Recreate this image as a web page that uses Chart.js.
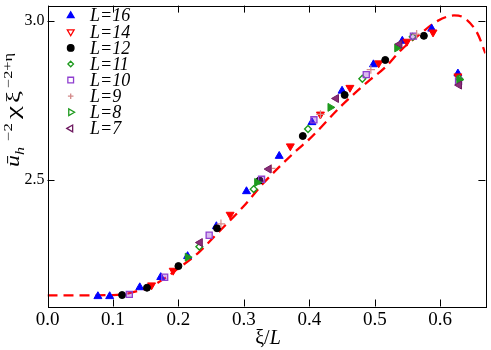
<!DOCTYPE html>
<html><head><meta charset="utf-8">
<script src="https://cdn.jsdelivr.net/npm/chart.js@4/dist/chart.umd.min.js"></script>
<style>html,body{margin:0;padding:0;background:#fff}</style>
</head><body>
<canvas id="c" width="491" height="350" style="width:491px;height:350px;display:block"></canvas>
<script>
// ---- data ----
const xTicks = [0.0, 0.1, 0.2, 0.3, 0.4, 0.5, 0.6];
const yTicks = [2.5, 3.0];

const L16x = [0.077,0.095,0.141,0.173,0.214,0.258,0.304,0.354,0.404,0.450,0.498,0.542,0.587,0.627];
const L16y = [2.134,2.134,2.162,2.194,2.260,2.354,2.464,2.575,2.681,2.780,2.863,2.937,2.975,2.834];
const L14x = [0.159,0.192,0.279,0.371,0.417,0.462,0.506,0.549,0.589,0.627];
const L14y = [2.169,2.215,2.391,2.606,2.706,2.790,2.867,2.935,2.964,2.826];
const L12x = [0.114,0.152,0.200,0.259,0.324,0.390,0.454,0.516,0.575];
const L12y = [2.138,2.161,2.229,2.348,2.498,2.638,2.767,2.877,2.953];
const L11x = [0.232,0.315,0.398,0.481,0.558,0.629];
const L11y = [2.290,2.471,2.660,2.818,2.950,2.818];
const L10x = [0.125,0.179,0.247,0.327,0.407,0.487,0.559,0.628];
const L10y = [2.140,2.194,2.326,2.502,2.689,2.831,2.952,2.810];
const L9x  = [0.265,0.342,0.417,0.494,0.564];
const L9y  = [2.362,2.536,2.706,2.847,2.958];
const L8x  = [0.214,0.320,0.432,0.534,0.629];
const L8y  = [2.257,2.492,2.728,2.915,2.815];
const L7x  = [0.233,0.338,0.441,0.538,0.629];
const L7y  = [2.303,2.534,2.756,2.927,2.798];

const curveX = [0.0,0.05,0.10,0.12,0.14,0.16,0.18,0.20,0.23,0.26,0.30,0.33,0.38,0.40,0.45,0.49,0.515,0.54,0.57,0.596,0.621,0.636,0.657,0.669];
const curveY = [2.137,2.137,2.138,2.142,2.152,2.167,2.192,2.222,2.270,2.333,2.418,2.490,2.592,2.628,2.735,2.810,2.852,2.908,2.960,3.000,3.017,3.010,2.960,2.898];

const seriesNames = ['L=16','L=14','L=12','L=11','L=10','L=9','L=8','L=7'];

// ---- helpers ----
const pts = (xs, ys) => xs.map((v, i) => ({x: v, y: ys[i]}));
const SERIF = '"Liberation Serif", "DejaVu Serif", serif';

const styles = [
  {style:'triangle', rot:0,   r:4.6, bg:'#0000ff', bc:'#0000ff', bw:1,   lgFill:true},
  {style:'triangle', rot:180, r:4.6, bg:'#ff0000', bc:'#ff0000', bw:1,   lgFill:false},
  {style:'circle',   rot:0,   r:3.5, bg:'#000000', bc:'#000000', bw:1,   lgFill:true},
  {style:'rectRot',  rot:0,   r:3.4, bg:'#ffffff', bc:'#1e9a1e', bw:1.4, lgFill:false},
  {style:'rect',     rot:0,   r:4.3, bg:'rgba(150,60,210,0.35)', bc:'#8f3fd0', bw:1.3, lgFill:false},
  {style:'cross',    rot:0,   r:4.2, bg:'#d48a8a', bc:'#d48a8a', bw:1.2, lgFill:false},
  {style:'triangle', rot:90,  r:4.6, bg:'#1e9a1e', bc:'#1e9a1e', bw:1,   lgFill:false},
  {style:'triangle', rot:270, r:4.6, bg:'#8a2f78', bc:'#6e1a60', bw:1,   lgFill:false},
];
const seriesData = [pts(L16x,L16y),pts(L14x,L14y),pts(L12x,L12y),pts(L11x,L11y),pts(L10x,L10y),pts(L9x,L9y),pts(L8x,L8y),pts(L7x,L7y)];

const datasets = seriesData.map((d, i) => ({
  label: seriesNames[i],
  data: d,
  showLine: false,
  pointStyle: styles[i].style,
  rotation: styles[i].rot,
  pointRadius: styles[i].r,
  backgroundColor: styles[i].bg,
  borderColor: styles[i].bc,
  borderWidth: styles[i].bw,
  order: 8 - i
}));
datasets.push({
  label: 'fit',
  data: pts(curveX, curveY),
  showLine: true,
  borderColor: '#ff0000',
  borderWidth: 2.3,
  borderDash: [10, 6],
  pointRadius: 0,
  cubicInterpolationMode: 'monotone',
  order: 20
});

function marker(ctx, s, x, y, r, fill) {
  const rad = s.rot * Math.PI / 180;
  ctx.save();
  ctx.lineWidth = 1.3;
  ctx.strokeStyle = s.bc;
  ctx.fillStyle = fill ? s.bg : '#ffffff';
  ctx.beginPath();
  if (s.style === 'triangle') {
    for (let k = 0; k < 3; k++) {
      const a = rad + k * 2 * Math.PI / 3;
      const px = x + Math.sin(a) * r, py = y - Math.cos(a) * r;
      k ? ctx.lineTo(px, py) : ctx.moveTo(px, py);
    }
    ctx.closePath(); ctx.fill(); ctx.stroke();
  } else if (s.style === 'circle') {
    ctx.arc(x, y, r, 0, Math.PI * 2); ctx.fill(); ctx.stroke();
  } else if (s.style === 'rectRot') {
    ctx.moveTo(x, y - r); ctx.lineTo(x + r, y); ctx.lineTo(x, y + r); ctx.lineTo(x - r, y); ctx.closePath();
    ctx.fill(); ctx.stroke();
  } else if (s.style === 'rect') {
    ctx.rect(x - r * 0.75, y - r * 0.75, r * 1.5, r * 1.5); ctx.fill(); ctx.stroke();
  } else if (s.style === 'cross') {
    ctx.moveTo(x - r, y); ctx.lineTo(x + r, y); ctx.moveTo(x, y - r); ctx.lineTo(x, y + r); ctx.stroke();
  }
  ctx.restore();
}

const deco = {
  id: 'deco',
  afterDraw(chart) {
    const {ctx, chartArea: a, scales: {x, y}} = chart;
    ctx.save();
    // frame
    ctx.strokeStyle = '#000'; ctx.lineWidth = 1;
    ctx.strokeRect(Math.round(a.left) + 0.5, Math.round(a.top) + 0.5, Math.round(a.right - a.left), Math.round(a.bottom - a.top));
    ctx.beginPath();
    xTicks.forEach(v => {
      const p = Math.round(x.getPixelForValue(v)) + 0.5;
      ctx.moveTo(p, a.bottom); ctx.lineTo(p, a.bottom - 7);
      ctx.moveTo(p, a.top); ctx.lineTo(p, a.top + 7);
    });
    yTicks.forEach(v => {
      const p = Math.round(y.getPixelForValue(v)) + 0.5;
      ctx.moveTo(a.left, p); ctx.lineTo(a.left + 7, p);
      ctx.moveTo(a.right, p); ctx.lineTo(a.right - 7, p);
    });
    ctx.stroke();

    // legend
    ctx.textBaseline = 'middle';
    ctx.textAlign = 'left';
    seriesNames.forEach((n, i) => {
      const cy = 15.7 + i * 16.1;
      const s = styles[i];
      const lr = s.style === 'rectRot' || s.style === 'cross' ? 2.8 : (s.style === 'circle' ? 3.3 : (s.style === 'rect' ? 3.8 : 3.9));
      marker(ctx, s, 70.7, cy, lr, s.lgFill);
      ctx.fillStyle = '#000';
      ctx.font = 'italic 18px ' + SERIF;
      ctx.fillText(n, 90, cy + 1);
    });

    // x title
    ctx.fillStyle = '#000';
    ctx.textBaseline = 'alphabetic';
    const xs = [
      {t: 'ξ', f: '20px ' + SERIF},
      {t: '/', f: '20px ' + SERIF},
      {t: 'L', f: 'italic 20px ' + SERIF}
    ];
    let tw = 0;
    xs.forEach(s => { ctx.font = s.f; s.w = ctx.measureText(s.t).width; tw += s.w; });
    let cx = 268 - tw / 2;
    xs.forEach(s => { ctx.font = s.f; ctx.fillText(s.t, cx, 344); cx += s.w; });

    // y title (rotated); each piece is fitted to a span (px from the bottom end)
    const ys = [
      {t: 'ū',    f: 'italic 18px ' + SERIF, dy: 0,  a: 0,  b: 12},
      {t: 'h',    f: 'italic 12px ' + SERIF, dy: 5,  a: 12, b: 20},
      {t: '−2',   f: '12px ' + SERIF,        dy: -7, a: 26, b: 44},
      {t: 'χ',    f: '18px ' + SERIF,        dy: 0,  a: 48, b: 61},
      {t: 'ξ',    f: '18px ' + SERIF,        dy: 0,  a: 64, b: 76},
      {t: '−2+η', f: '12px ' + SERIF,        dy: -7, a: 79, b: 114}
    ];
    ctx.save();
    ctx.translate(19, 167);
    ctx.rotate(-Math.PI / 2);
    ys.forEach(s => {
      ctx.font = s.f;
      const w = ctx.measureText(s.t).width;
      ctx.save();
      ctx.translate(s.a, s.dy);
      ctx.scale((s.b - s.a) / w, 1);
      ctx.fillText(s.t, 0, 0);
      ctx.restore();
    });
    ctx.restore();
    ctx.restore();
  }
};

new Chart(document.getElementById('c'), {
  type: 'scatter',
  data: {datasets},
  options: {
    responsive: false,
    animation: false,
    events: [],
    layout: {padding: {left: 0, right: 3, top: 2, bottom: 0}},
    plugins: {legend: {display: false}, tooltip: {enabled: false}},
    scales: {
      x: {
        type: 'linear', min: 0, max: 0.669,
        grid: {display: false, drawTicks: false},
        border: {display: false},
        afterBuildTicks: s => { s.ticks = xTicks.map(v => ({value: v})); },
        afterFit: s => { s.height = 43.5; s.paddingLeft = 0; s.paddingRight = 0; },
        ticks: {color: '#000', padding: 2, font: {family: SERIF, size: 19}, callback: v => v.toFixed(1), maxRotation: 0, autoSkip: false}
      },
      y: {
        type: 'linear', min: 2.102, max: 3.048,
        grid: {display: false, drawTicks: false},
        border: {display: false},
        afterBuildTicks: s => { s.ticks = yTicks.map(v => ({value: v})); },
        afterFit: s => { s.width = 47.5; s.paddingTop = 0; s.paddingBottom = 0; },
        ticks: {color: '#000', padding: 3, font: {family: SERIF, size: 16}, callback: v => v.toFixed(1)}
      }
    }
  },
  plugins: [deco]
});
</script>
</body></html>
